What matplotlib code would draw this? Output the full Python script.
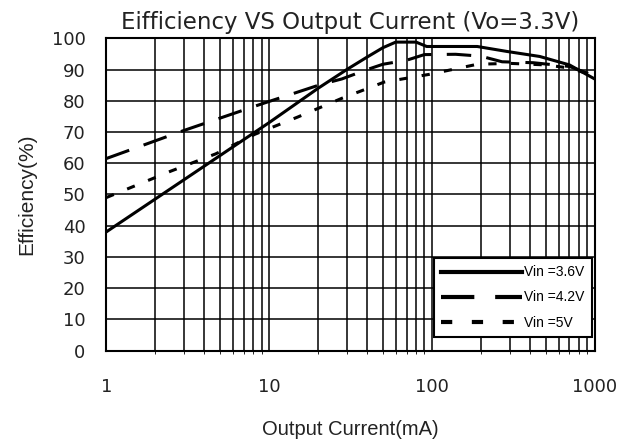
import numpy as np
import matplotlib
matplotlib.use("Agg")
import matplotlib.pyplot as plt
from matplotlib.ticker import LogLocator, FixedLocator

plt.rcParams['font.family'] = ['Liberation Sans', 'DejaVu Sans']

i_36 = [1, 10, 20, 30, 40, 50, 60, 80, 93, 190, 290, 460, 700, 1000]
e_36 = [38, 73, 84, 90, 94, 97, 98.8, 98.8, 97.4, 97.4, 95.8, 94.2, 91.5, 87]
i_42 = [1, 3, 9, 21, 28, 40, 50, 70, 90, 140, 200, 270, 420, 700, 1000]
e_42 = [61.5, 70.5, 79, 85.3, 87, 90, 91.7, 93, 94.8, 94.9, 94.3, 92.5, 92.2, 91, 88]
i_5 = [1, 2.5, 4.7, 8.2, 15, 28, 51, 97, 190, 300, 500, 700, 1000]
e_5 = [49, 57.5, 63, 69.3, 74.8, 80.8, 86, 88.5, 91.7, 92, 91.5, 90.5, 88]

fig = plt.figure(figsize=(6.36, 4.41), dpi=100)
ax = fig.add_axes([0.167, 0.205, 0.768, 0.708])

ax.plot(i_36, e_36, 'k-', lw=2.2, label="Vin =3.6V")
ax.plot(i_42, e_42, 'k', lw=2.2, dashes=(8, 5), label="Vin =4.2V")
ax.plot(i_5, e_5, 'k', lw=2.2, dashes=(2.7, 4.7), label="Vin =5V")

ax.set_xscale('log')
ax.set_xlim(1, 1000)
ax.set_ylim(0, 100)
ax.set_yticks(np.arange(0, 101, 10))
ax.xaxis.set_major_locator(FixedLocator([1, 10, 100, 1000]))
ax.set_xticklabels(["1", "10", "100", "1000"])
ax.xaxis.set_minor_locator(LogLocator(base=10, subs=np.arange(2, 10)))
ax.xaxis.set_minor_formatter(plt.NullFormatter())
ax.grid(True, which='both', color='k', lw=1.1)
ax.tick_params(axis='both', length=0, labelsize=13)
for lab in ax.get_xticklabels() + ax.get_yticklabels():
    lab.set_family('DejaVu Sans')
    lab.set_color('#222222')
ax.tick_params(axis='x', pad=20)
ax.tick_params(axis='y', pad=15)
for s in ax.spines.values():
    s.set_linewidth(1.5)

ax.set_title("Eifficiency VS Output Current (Vo=3.3V)", fontsize=16.5,
             family='DejaVu Sans', pad=7, color='#222222')
ax.set_xlabel("Output Current(mA)", fontsize=14.5, labelpad=17, color='#222222')
ax.set_ylabel("Efficiency(%)", fontsize=15, labelpad=11, color='#222222')

leg = ax.legend(loc='lower right', fontsize=10, frameon=True, fancybox=False,
                edgecolor='k', framealpha=1, handlelength=5.8, handletextpad=0.2,
                borderpad=0.5, labelspacing=0.8, borderaxespad=0,
                bbox_to_anchor=(0.994, 0.045))
leg.get_frame().set_linewidth(1.5)
for line in leg.get_lines():
    line.set_linewidth(3)

fig.savefig("out.png", dpi=100)
